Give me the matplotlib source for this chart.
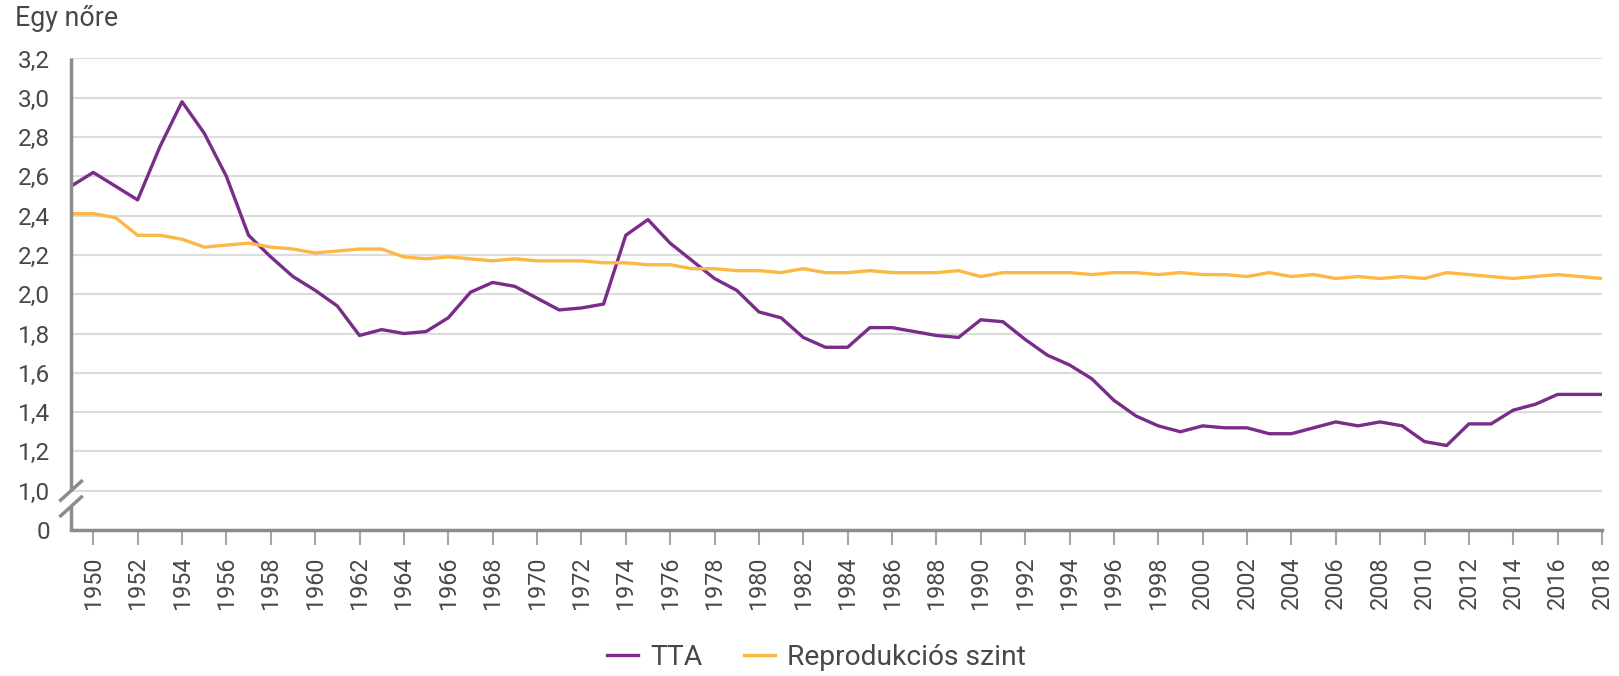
import matplotlib
matplotlib.use('Agg')
import matplotlib.pyplot as plt
import matplotlib.transforms as mtransforms

plt.rcParams['font.family'] = ['Roboto', 'DejaVu Sans']

# adatok
years = list(range(1949, 2019))
tta = [2.55, 2.62, 2.55, 2.48, 2.75, 2.98, 2.82, 2.60, 2.30, 2.19,
       2.09, 2.02, 1.94, 1.79, 1.82, 1.80, 1.81, 1.88, 2.01, 2.06,
       2.04, 1.98, 1.92, 1.93, 1.95, 2.30, 2.38, 2.26, 2.17, 2.08,
       2.02, 1.91, 1.88, 1.78, 1.73, 1.73, 1.83, 1.83, 1.81, 1.79,
       1.78, 1.87, 1.86, 1.77, 1.69, 1.64, 1.57, 1.46, 1.38, 1.33,
       1.30, 1.33, 1.32, 1.32, 1.29, 1.29, 1.32, 1.35, 1.33, 1.35,
       1.33, 1.25, 1.23, 1.34, 1.34, 1.41, 1.44, 1.49, 1.49, 1.49]
repro = [2.41, 2.41, 2.39, 2.30, 2.30, 2.28, 2.24, 2.25, 2.26, 2.24,
         2.23, 2.21, 2.22, 2.23, 2.23, 2.19, 2.18, 2.19, 2.18, 2.17,
         2.18, 2.17, 2.17, 2.17, 2.16, 2.16, 2.15, 2.15, 2.13, 2.13,
         2.12, 2.12, 2.11, 2.13, 2.11, 2.11, 2.12, 2.11, 2.11, 2.11,
         2.12, 2.09, 2.11, 2.11, 2.11, 2.11, 2.10, 2.11, 2.11, 2.10,
         2.11, 2.10, 2.10, 2.09, 2.11, 2.09, 2.10, 2.08, 2.09, 2.08,
         2.09, 2.08, 2.11, 2.10, 2.09, 2.08, 2.09, 2.10, 2.09, 2.08]
xticks = list(range(1950, 2019, 2))
ytick_vals = [0.8, 1.0, 1.2, 1.4, 1.6, 1.8, 2.0, 2.2, 2.4, 2.6, 2.8, 3.0, 3.2]
ytick_labels = ['0', '1,0', '1,2', '1,4', '1,6', '1,8', '2,0',
                '2,2', '2,4', '2,6', '2,8', '3,0', '3,2']

purple = '#7a2d88'
orange = '#fbb843'
text_col = '#484848'
axis_col = '#8c8c8c'

fig = plt.figure(figsize=(16.19, 6.76), dpi=100)
ax = fig.add_axes([0.0439, 0.216, 0.9456, 0.6975])

ax.plot(years, tta, color=purple, lw=2.4, label='TTA', zorder=3)
ax.plot(years, repro, color=orange, lw=2.4, label='Reprodukciós szint', zorder=3)

ax.set_xlim(1949, 2018)
ax.set_ylim(0.8, 3.2)

ax.set_xticks(xticks)
ax.set_xticklabels([str(y) for y in xticks], rotation=90)
ax.set_yticks(ytick_vals)
ax.set_yticklabels(ytick_labels)
ax.tick_params(axis='x', length=11, width=1.5, color='#a6a6a6', pad=8,
               labelsize=16.8, labelcolor=text_col)
ax.tick_params(axis='y', length=0, pad=15, labelsize=17.5, labelcolor=text_col)

# rácsvonalak (a 0 helyén nincs)
for v in ytick_vals[1:]:
    ax.axhline(v, color='#dcdcdc', lw=1.5, zorder=1)

for s in ['top', 'right', 'left']:
    ax.spines[s].set_visible(False)
ax.spines['bottom'].set_color(axis_col)
ax.spines['bottom'].set_linewidth(2.5)

# megszakított y tengely
trans = mtransforms.blended_transform_factory(ax.transAxes, ax.transData)
ax.plot([0, 0], [1.0, 3.2], color=axis_col, lw=2.5, transform=trans,
        clip_on=False, solid_capstyle='butt', zorder=4)
ax.plot([0, 0], [0.8, 0.92], color=axis_col, lw=2.5, transform=trans,
        clip_on=False, solid_capstyle='butt', zorder=4)
for yb in [1.0, 0.92]:
    ax.plot([-0.0068, 0.0068], [yb - 0.048, yb + 0.048], color=axis_col, lw=2.5,
            transform=trans, clip_on=False, zorder=4)

fig.text(0.009, 0.972, 'Egy nőre', fontsize=19.3, color=text_col, va='center', ha='left')

fig.legend(loc='center', bbox_to_anchor=(0.5043, 0.028), ncol=2, frameon=False,
           fontsize=20.3, handlelength=1.1, handletextpad=0.43, columnspacing=1.5,
           labelcolor=text_col)

plt.savefig('out.png', dpi=100)
